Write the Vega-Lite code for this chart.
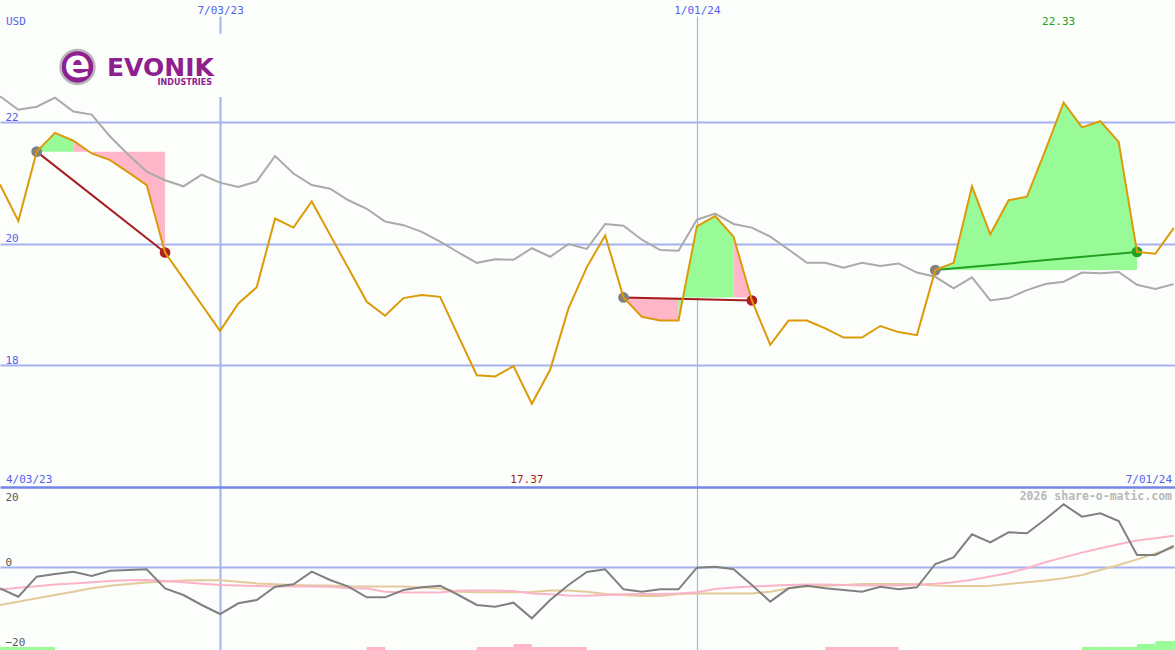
{
  "$schema": "https://vega.github.io/schema/vega-lite/v6.json",
  "autosize": {"type": "pad"},
  "padding": {"top": 4, "left": 0, "right": 0, "bottom": 0},
  "bounds": "flush",
  "spacing": 0,
  "background": "#fcfefc",
  "config": {"view": {"stroke": null}, "text": {"font": "DejaVu Sans Mono"}},
  "datasets": {
    "main": [
      {"date": "2023-04-10", "price": 20.98, "comp": 22.43, "mom": -5.33, "ma1": -5.6, "ma2": -9.5},
      {"date": "2023-04-17", "price": 20.38, "comp": 22.21, "mom": -7.42, "ma1": -5.2, "ma2": -8.67},
      {"date": "2023-04-24", "price": 21.52, "comp": 22.26, "mom": -2.42, "ma1": -4.8, "ma2": -7.8},
      {"date": "2023-05-01", "price": 21.83, "comp": 22.41, "mom": -1.75, "ma1": -4.4, "ma2": -7.0},
      {"date": "2023-05-08", "price": 21.7, "comp": 22.18, "mom": -1.17, "ma1": -4.1, "ma2": -6.2},
      {"date": "2023-05-15", "price": 21.49, "comp": 22.13, "mom": -2.25, "ma1": -3.8, "ma2": -5.3},
      {"date": "2023-05-22", "price": 21.38, "comp": 21.77, "mom": -0.92, "ma1": -3.5, "ma2": -4.7},
      {"date": "2023-05-29", "price": 21.18, "comp": 21.47, "mom": -0.75, "ma1": -3.3, "ma2": -4.25},
      {"date": "2023-06-05", "price": 20.97, "comp": 21.19, "mom": -0.58, "ma1": -3.25, "ma2": -3.9},
      {"date": "2023-06-12", "price": 19.86, "comp": 21.05, "mom": -5.33, "ma1": -3.5, "ma2": -3.6},
      {"date": "2023-06-19", "price": 19.43, "comp": 20.95, "mom": -7.0, "ma1": -3.8, "ma2": -3.4},
      {"date": "2023-06-26", "price": 19.0, "comp": 21.14, "mom": -9.5, "ma1": -4.2, "ma2": -3.3},
      {"date": "2023-07-03", "price": 18.57, "comp": 21.01, "mom": -11.75, "ma1": -4.5, "ma2": -3.3},
      {"date": "2023-07-10", "price": 19.02, "comp": 20.94, "mom": -9.08, "ma1": -4.6, "ma2": -3.7},
      {"date": "2023-07-17", "price": 19.29, "comp": 21.03, "mom": -8.25, "ma1": -4.75, "ma2": -4.1},
      {"date": "2023-07-24", "price": 20.42, "comp": 21.45, "mom": -4.92, "ma1": -4.85, "ma2": -4.3},
      {"date": "2023-07-31", "price": 20.27, "comp": 21.16, "mom": -4.33, "ma1": -4.9, "ma2": -4.5},
      {"date": "2023-08-07", "price": 20.7, "comp": 20.97, "mom": -1.17, "ma1": -4.9, "ma2": -4.6},
      {"date": "2023-08-14", "price": 20.15, "comp": 20.91, "mom": -3.25, "ma1": -4.95, "ma2": -4.6},
      {"date": "2023-08-21", "price": 19.6, "comp": 20.72, "mom": -4.92, "ma1": -5.3, "ma2": -4.9},
      {"date": "2023-08-28", "price": 19.05, "comp": 20.58, "mom": -7.58, "ma1": -5.4, "ma2": -4.9},
      {"date": "2023-09-04", "price": 18.82, "comp": 20.37, "mom": -7.58, "ma1": -6.2, "ma2": -4.9},
      {"date": "2023-09-11", "price": 19.11, "comp": 20.31, "mom": -5.75, "ma1": -6.4, "ma2": -4.9},
      {"date": "2023-09-18", "price": 19.16, "comp": 20.2, "mom": -5.08, "ma1": -6.4, "ma2": -5.1},
      {"date": "2023-09-25", "price": 19.13, "comp": 20.04, "mom": -4.67, "ma1": -6.4, "ma2": -5.4},
      {"date": "2023-10-02", "price": 18.48, "comp": 19.86, "mom": -7.0, "ma1": -5.9, "ma2": -6.2},
      {"date": "2023-10-09", "price": 17.84, "comp": 19.69, "mom": -9.5, "ma1": -5.9, "ma2": -6.3},
      {"date": "2023-10-16", "price": 17.82, "comp": 19.75, "mom": -9.92, "ma1": -5.9, "ma2": -6.3},
      {"date": "2023-10-23", "price": 17.99, "comp": 19.74, "mom": -8.92, "ma1": -6.0, "ma2": -6.3},
      {"date": "2023-10-30", "price": 17.37, "comp": 19.93, "mom": -12.83, "ma1": -6.6, "ma2": -6.25},
      {"date": "2023-11-06", "price": 17.93, "comp": 19.79, "mom": -8.25, "ma1": -6.8, "ma2": -5.9},
      {"date": "2023-11-13", "price": 18.94, "comp": 20.0, "mom": -4.5, "ma1": -7.1, "ma2": -5.9},
      {"date": "2023-11-20", "price": 19.62, "comp": 19.92, "mom": -1.25, "ma1": -7.2, "ma2": -6.2},
      {"date": "2023-11-27", "price": 20.14, "comp": 20.33, "mom": -0.58, "ma1": -7.0, "ma2": -6.75},
      {"date": "2023-12-04", "price": 19.12, "comp": 20.3, "mom": -5.58, "ma1": -6.8, "ma2": -7.0},
      {"date": "2023-12-11", "price": 18.8, "comp": 20.07, "mom": -6.17, "ma1": -6.75, "ma2": -7.25},
      {"date": "2023-12-18", "price": 18.74, "comp": 19.9, "mom": -5.58, "ma1": -6.75, "ma2": -7.25},
      {"date": "2023-12-25", "price": 18.74, "comp": 19.89, "mom": -5.58, "ma1": -6.6, "ma2": -6.75},
      {"date": "2024-01-01", "price": 20.29, "comp": 20.4, "mom": -0.17, "ma1": -6.3, "ma2": -6.6},
      {"date": "2024-01-08", "price": 20.46, "comp": 20.5, "mom": 0.08, "ma1": -5.5, "ma2": -6.6},
      {"date": "2024-01-15", "price": 20.12, "comp": 20.33, "mom": -0.58, "ma1": -5.1, "ma2": -6.6},
      {"date": "2024-01-22", "price": 19.07, "comp": 20.27, "mom": -4.5, "ma1": -4.9, "ma2": -6.6},
      {"date": "2024-01-29", "price": 18.34, "comp": 20.12, "mom": -8.67, "ma1": -4.7, "ma2": -6.2},
      {"date": "2024-02-05", "price": 18.74, "comp": 19.91, "mom": -5.33, "ma1": -4.5, "ma2": -5.3},
      {"date": "2024-02-12", "price": 18.74, "comp": 19.69, "mom": -4.67, "ma1": -4.4, "ma2": -4.9},
      {"date": "2024-02-19", "price": 18.61, "comp": 19.69, "mom": -5.33, "ma1": -4.4, "ma2": -4.7},
      {"date": "2024-02-26", "price": 18.46, "comp": 19.61, "mom": -5.75, "ma1": -4.5, "ma2": -4.5},
      {"date": "2024-03-04", "price": 18.46, "comp": 19.69, "mom": -6.17, "ma1": -4.6, "ma2": -4.25},
      {"date": "2024-03-11", "price": 18.65, "comp": 19.64, "mom": -4.92, "ma1": -4.6, "ma2": -4.25},
      {"date": "2024-03-18", "price": 18.55, "comp": 19.68, "mom": -5.58, "ma1": -4.6, "ma2": -4.25},
      {"date": "2024-03-25", "price": 18.5, "comp": 19.53, "mom": -5.08, "ma1": -4.4, "ma2": -4.3},
      {"date": "2024-04-01", "price": 19.57, "comp": 19.46, "mom": 0.75, "ma1": -4.2, "ma2": -4.6},
      {"date": "2024-04-08", "price": 19.69, "comp": 19.27, "mom": 2.42, "ma1": -3.8, "ma2": -4.75},
      {"date": "2024-04-15", "price": 20.95, "comp": 19.45, "mom": 8.17, "ma1": -3.2, "ma2": -4.75},
      {"date": "2024-04-22", "price": 20.16, "comp": 19.07, "mom": 6.17, "ma1": -2.4, "ma2": -4.7},
      {"date": "2024-04-29", "price": 20.72, "comp": 19.11, "mom": 8.67, "ma1": -1.5, "ma2": -4.25},
      {"date": "2024-05-06", "price": 20.78, "comp": 19.24, "mom": 8.42, "ma1": -0.3, "ma2": -3.8},
      {"date": "2024-05-13", "price": 21.54, "comp": 19.34, "mom": 11.92, "ma1": 1.2, "ma2": -3.4},
      {"date": "2024-05-20", "price": 22.33, "comp": 19.38, "mom": 15.67, "ma1": 2.4, "ma2": -2.8},
      {"date": "2024-05-27", "price": 21.92, "comp": 19.53, "mom": 12.58, "ma1": 3.6, "ma2": -2.0},
      {"date": "2024-06-03", "price": 22.02, "comp": 19.52, "mom": 13.42, "ma1": 4.7, "ma2": -0.75},
      {"date": "2024-06-10", "price": 21.68, "comp": 19.54, "mom": 11.5, "ma1": 5.7, "ma2": 0.5},
      {"date": "2024-06-17", "price": 19.87, "comp": 19.33, "mom": 3.0, "ma1": 6.6, "ma2": 1.9},
      {"date": "2024-06-24", "price": 19.84, "comp": 19.26, "mom": 3.0, "ma1": 7.2, "ma2": 3.4},
      {"date": "2024-07-01", "price": 20.26, "comp": 19.34, "mom": 5.25, "ma1": 7.8, "ma2": 4.8}
    ],
    "shade": [
      {"run": "a", "res": "gain", "date": "2023-04-24", "price": 21.52, "base": 21.52},
      {"run": "a", "res": "gain", "date": "2023-05-01", "price": 21.83, "base": 21.52},
      {"run": "a", "res": "gain", "date": "2023-05-08", "price": 21.7, "base": 21.52},
      {"run": "b", "res": "loss", "date": "2023-05-08", "price": 21.7, "base": 21.52},
      {"run": "b", "res": "loss", "date": "2023-05-15", "price": 21.49, "base": 21.52},
      {"run": "b", "res": "loss", "date": "2023-05-22", "price": 21.38, "base": 21.52},
      {"run": "b", "res": "loss", "date": "2023-05-29", "price": 21.18, "base": 21.52},
      {"run": "b", "res": "loss", "date": "2023-06-05", "price": 20.97, "base": 21.52},
      {"run": "b", "res": "loss", "date": "2023-06-12", "price": 19.86, "base": 21.52},
      {"run": "c", "res": "loss", "date": "2023-12-04", "price": 19.12, "base": 19.12},
      {"run": "c", "res": "loss", "date": "2023-12-11", "price": 18.8, "base": 19.12},
      {"run": "c", "res": "loss", "date": "2023-12-18", "price": 18.74, "base": 19.12},
      {"run": "c", "res": "loss", "date": "2023-12-25", "price": 18.74, "base": 19.12},
      {"run": "d", "res": "gain", "date": "2023-12-25", "price": 18.74, "base": 19.12},
      {"run": "d", "res": "gain", "date": "2024-01-01", "price": 20.29, "base": 19.12},
      {"run": "d", "res": "gain", "date": "2024-01-08", "price": 20.46, "base": 19.12},
      {"run": "d", "res": "gain", "date": "2024-01-15", "price": 20.12, "base": 19.12},
      {"run": "e", "res": "loss", "date": "2024-01-15", "price": 20.12, "base": 19.12},
      {"run": "e", "res": "loss", "date": "2024-01-22", "price": 19.07, "base": 19.12},
      {"run": "f", "res": "gain", "date": "2024-04-01", "price": 19.57, "base": 19.57},
      {"run": "f", "res": "gain", "date": "2024-04-08", "price": 19.69, "base": 19.57},
      {"run": "f", "res": "gain", "date": "2024-04-15", "price": 20.95, "base": 19.57},
      {"run": "f", "res": "gain", "date": "2024-04-22", "price": 20.16, "base": 19.57},
      {"run": "f", "res": "gain", "date": "2024-04-29", "price": 20.72, "base": 19.57},
      {"run": "f", "res": "gain", "date": "2024-05-06", "price": 20.78, "base": 19.57},
      {"run": "f", "res": "gain", "date": "2024-05-13", "price": 21.54, "base": 19.57},
      {"run": "f", "res": "gain", "date": "2024-05-20", "price": 22.33, "base": 19.57},
      {"run": "f", "res": "gain", "date": "2024-05-27", "price": 21.92, "base": 19.57},
      {"run": "f", "res": "gain", "date": "2024-06-03", "price": 22.02, "base": 19.57},
      {"run": "f", "res": "gain", "date": "2024-06-10", "price": 21.68, "base": 19.57},
      {"run": "f", "res": "gain", "date": "2024-06-17", "price": 19.87, "base": 19.57}
    ],
    "trades": [
      {"trade": 1, "side": "buy", "res": "loss", "date": "2023-04-24", "price": 21.52},
      {"trade": 1, "side": "sell", "res": "loss", "date": "2023-06-12", "price": 19.86},
      {"trade": 2, "side": "buy", "res": "loss", "date": "2023-12-04", "price": 19.12},
      {"trade": 2, "side": "sell", "res": "loss", "date": "2024-01-22", "price": 19.07},
      {"trade": 3, "side": "buy", "res": "gain", "date": "2024-04-01", "price": 19.57},
      {"trade": 3, "side": "sell", "res": "gain", "date": "2024-06-17", "price": 19.87}
    ],
    "bars": [
      {"date": "2023-04-10", "end": "2023-04-17", "top": -20.0, "dir": "up"},
      {"date": "2023-04-17", "end": "2023-04-24", "top": -20.0, "dir": "up"},
      {"date": "2023-04-24", "end": "2023-05-01", "top": -20.0, "dir": "up"},
      {"date": "2023-08-28", "end": "2023-09-04", "top": -20.0, "dir": "down"},
      {"date": "2023-10-09", "end": "2023-10-16", "top": -20.0, "dir": "down"},
      {"date": "2023-10-16", "end": "2023-10-23", "top": -20.0, "dir": "down"},
      {"date": "2023-10-23", "end": "2023-10-30", "top": -19.25, "dir": "down"},
      {"date": "2023-10-30", "end": "2023-11-06", "top": -20.0, "dir": "down"},
      {"date": "2023-11-06", "end": "2023-11-13", "top": -20.0, "dir": "down"},
      {"date": "2023-11-13", "end": "2023-11-20", "top": -20.0, "dir": "down"},
      {"date": "2024-02-19", "end": "2024-02-26", "top": -20.0, "dir": "down"},
      {"date": "2024-02-26", "end": "2024-03-04", "top": -20.0, "dir": "down"},
      {"date": "2024-03-04", "end": "2024-03-11", "top": -20.0, "dir": "down"},
      {"date": "2024-03-11", "end": "2024-03-18", "top": -20.0, "dir": "down"},
      {"date": "2024-05-27", "end": "2024-06-03", "top": -20.0, "dir": "up"},
      {"date": "2024-06-03", "end": "2024-06-10", "top": -20.0, "dir": "up"},
      {"date": "2024-06-10", "end": "2024-06-17", "top": -20.0, "dir": "up"},
      {"date": "2024-06-17", "end": "2024-06-24", "top": -19.25, "dir": "up"},
      {"date": "2024-06-24", "end": "2024-07-01", "top": -18.5, "dir": "up"},
      {"date": "2024-07-01", "end": "2024-07-08", "top": -18.5, "dir": "up"}
    ]
  },
  "vconcat": [
    {
      "width": 1175,
      "height": 471,
      "data": {"name": "main"},
      "encoding": {
        "x": {
          "field": "date", "type": "temporal",
          "scale": {"type": "utc", "domain": [{"year": 2023, "month": 4, "date": 10, "utc": true}, {"year": 2024, "month": 7, "date": 1, "hours": 12, "utc": true}]},
          "axis": {
            "orient": "top", "title": null,
            "values": [{"year": 2023, "month": 7, "date": 3, "utc": true}, {"year": 2024, "month": 1, "date": 1, "utc": true}],
            "labelExpr": "utcFormat(datum.value, '%-m/%d/%y')",
            "domain": false, "ticks": false, "labelPadding": 1, "labelFlush": false,
            "labelColor": "#5262ec", "labelFont": "DejaVu Sans Mono", "labelFontSize": 11,
            "grid": true, "gridColor": "#a6b2f0",
            "gridWidth": {"condition": {"test": "utcyear(datum.value) == 2023", "value": 2}, "value": 1.2}
          }
        },
        "y": {
          "field": "price", "type": "quantitative",
          "scale": {"domain": [16, 23.753], "zero": false, "nice": false},
          "axis": {
            "orient": "left", "title": null, "values": [18, 20, 22],
            "domain": false, "ticks": false, "grid": true, "gridColor": "#a6b2f0", "gridWidth": 2,
            "labelAlign": "left", "labelBaseline": "bottom", "labelPadding": -5,
            "labelColor": "#5262ec", "labelFont": "DejaVu Sans Mono", "labelFontSize": 11
          }
        }
      },
      "layer": [
        {
          "transform": [{"window": [{"op": "row_number", "as": "rn"}]}, {"filter": "datum.rn == 1"}],
          "mark": {"type": "rect", "fill": "#fcfefc"},
          "encoding": {
            "x": {"datum": 1682402400000, "type": "temporal"},
            "x2": {"datum": 1688734800000},
            "y": {"datum": 23.46, "type": "quantitative"},
            "y2": {"datum": 22.42}
          }
        },
        {
          "data": {"name": "shade"},
          "mark": {"type": "area", "opacity": 1},
          "encoding": {
            "y2": {"field": "base"},
            "color": {"field": "res", "type": "nominal", "scale": {"domain": ["gain", "loss"], "range": ["#98fb98", "#ffb6c8"]}, "legend": null},
            "detail": {"field": "run", "type": "nominal"}
          }
        },
        {
          "mark": {"type": "line", "color": "#aaaaaa", "strokeWidth": 2, "clip": true},
          "encoding": {"y": {"field": "comp", "type": "quantitative"}}
        },
        {
          "data": {"name": "trades"},
          "mark": {"type": "line", "strokeWidth": 2, "clip": true},
          "encoding": {
            "color": {"field": "res", "type": "nominal", "scale": {"domain": ["gain", "loss"], "range": ["#22a022", "#a51d1d"]}, "legend": null},
            "detail": {"field": "trade", "type": "nominal"}
          }
        },
        {
          "data": {"name": "trades"},
          "mark": {"type": "point", "filled": true, "opacity": 1, "size": 115},
          "encoding": {
            "color": {
              "condition": {"test": "datum.side == 'buy'", "value": "#808080"},
              "field": "res", "type": "nominal",
              "scale": {"domain": ["gain", "loss"], "range": ["#22a022", "#b02020"]}, "legend": null
            }
          }
        },
        {
          "mark": {"type": "line", "color": "#dc9a08", "strokeWidth": 2, "clip": true}
        },
        {
          "transform": [{"window": [{"op": "row_number", "as": "rn"}]}, {"filter": "datum.rn == 1"}],
          "mark": {"type": "text", "align": "left", "baseline": "alphabetic", "dx": 6, "fontSize": 11, "color": "#5262ec"},
          "encoding": {
            "x": {"datum": 1681084800000, "type": "temporal"},
            "y": {"datum": 23.605, "type": "quantitative"},
            "text": {"value": "USD"}
          }
        },
        {
          "transform": [{"window": [{"op": "row_number", "as": "rn"}]}, {"filter": "datum.rn == 1"}],
          "mark": {"type": "text", "align": "left", "baseline": "alphabetic", "dx": 6, "fontSize": 11, "color": "#5262ec"},
          "encoding": {
            "x": {"datum": 1681084800000, "type": "temporal"},
            "y": {"datum": 16.066, "type": "quantitative"},
            "text": {"value": "4/03/23"}
          }
        },
        {
          "transform": [{"window": [{"op": "row_number", "as": "rn"}]}, {"filter": "datum.rn == 1"}],
          "mark": {"type": "text", "align": "right", "baseline": "alphabetic", "dx": -3, "fontSize": 11, "color": "#5262ec"},
          "encoding": {
            "x": {"datum": 1719835200000, "type": "temporal"},
            "y": {"datum": 16.066, "type": "quantitative"},
            "text": {"value": "7/01/24"}
          }
        },
        {
          "transform": [
            {"joinaggregate": [{"op": "max", "field": "price", "as": "pmax"}]},
            {"filter": "datum.price == datum.pmax"}
          ],
          "mark": {"type": "text", "align": "center", "baseline": "alphabetic", "dx": -5, "fontSize": 11, "color": "#22a022"},
          "encoding": {
            "y": {"datum": 23.605, "type": "quantitative"},
            "text": {"field": "price", "type": "quantitative", "format": ".2f"}
          }
        },
        {
          "transform": [
            {"joinaggregate": [{"op": "min", "field": "price", "as": "pmin"}]},
            {"filter": "datum.price == datum.pmin"}
          ],
          "mark": {"type": "text", "align": "center", "baseline": "alphabetic", "dx": -5, "fontSize": 11, "color": "#a51d1d"},
          "encoding": {
            "y": {"datum": 16.066, "type": "quantitative"},
            "text": {"field": "price", "type": "quantitative", "format": ".2f"}
          }
        },
        {
          "transform": [{"window": [{"op": "row_number", "as": "rn"}]}, {"filter": "datum.rn == 1"}],
          "mark": {"type": "point", "shape": "circle", "filled": true, "fill": "#8e1f8e", "stroke": "#b8b8b8", "strokeWidth": 2.5, "opacity": 1, "size": 1150},
          "encoding": {
            "x": {"datum": 1683640800000, "type": "temporal"},
            "y": {"datum": 22.914, "type": "quantitative"}
          }
        },
        {
          "transform": [{"window": [{"op": "row_number", "as": "rn"}]}, {"filter": "datum.rn == 1"}],
          "mark": {"type": "text", "align": "center", "baseline": "middle", "font": "DejaVu Sans", "fontWeight": "bold", "fontSize": 38, "color": "#ffffff", "dy": -1},
          "encoding": {
            "x": {"datum": 1683640800000, "type": "temporal"},
            "y": {"datum": 22.914, "type": "quantitative"},
            "text": {"value": "e"}
          }
        },
        {
          "transform": [{"window": [{"op": "row_number", "as": "rn"}]}, {"filter": "datum.rn == 1"}],
          "mark": {"type": "text", "align": "left", "baseline": "alphabetic", "font": "DejaVu Sans", "fontWeight": "bold", "fontSize": 25, "color": "#8e1f8e"},
          "encoding": {
            "x": {"datum": 1684612800000, "type": "temporal"},
            "y": {"datum": 22.765, "type": "quantitative"},
            "text": {"value": "EVONIK"}
          }
        },
        {
          "transform": [{"window": [{"op": "row_number", "as": "rn"}]}, {"filter": "datum.rn == 1"}],
          "mark": {"type": "text", "align": "right", "baseline": "alphabetic", "font": "DejaVu Sans", "fontWeight": "bold", "fontSize": 8, "color": "#8e1f8e", "dy": 1},
          "encoding": {
            "x": {"datum": 1688076000000, "type": "temporal"},
            "y": {"datum": 22.634, "type": "quantitative"},
            "text": {"value": "INDUSTRIES"}
          }
        }
      ],
      "resolve": {"scale": {"color": "independent"}}
    },
    {
      "width": 1175,
      "height": 163,
      "data": {"name": "main"},
      "encoding": {
        "x": {
          "field": "date", "type": "temporal",
          "scale": {"type": "utc", "domain": [{"year": 2023, "month": 4, "date": 10, "utc": true}, {"year": 2024, "month": 7, "date": 1, "hours": 12, "utc": true}]},
          "axis": {
            "orient": "bottom", "title": null,
            "values": [{"year": 2023, "month": 7, "date": 3, "utc": true}, {"year": 2024, "month": 1, "date": 1, "utc": true}],
            "labels": false, "domain": false, "ticks": false,
            "grid": true, "gridColor": "#a6b2f0",
            "gridWidth": {"condition": {"test": "utcyear(datum.value) == 2023", "value": 2}, "value": 1.2}
          }
        },
        "y": {
          "field": "mom", "type": "quantitative",
          "scale": {"domain": [-20.75, 20], "zero": false, "nice": false},
          "axis": {
            "orient": "left", "title": null, "values": [20, 0, -20],
            "domain": false, "ticks": false, "grid": true,
            "gridColor": {"condition": {"test": "datum.value == 20", "value": "#7585e8"}, "value": "#a6b2f0"},
            "gridOpacity": {"condition": {"test": "datum.value == -20", "value": 0}, "value": 1},
            "gridWidth": {"condition": {"test": "datum.value == 20", "value": 2.5}, "value": 2},
            "labelAlign": "left", "labelPadding": -5,
            "labelBaseline": {"condition": {"test": "datum.value == 20", "value": "top"}, "value": "bottom"},
            "labelOffset": {"condition": {"test": "datum.value == 20", "value": 4}, "value": 0},
            "labelColor": "#5a5a5a", "labelFont": "DejaVu Sans Mono", "labelFontSize": 11
          }
        }
      },
      "layer": [
        {
          "data": {"name": "bars", "format": {"parse": {"date": "date", "end": "date"}}},
          "mark": {"type": "rect", "clip": true},
          "encoding": {
            "x2": {"field": "end"},
            "y": {"field": "top", "type": "quantitative"},
            "y2": {"datum": -20.75},
            "color": {"field": "dir", "type": "nominal", "scale": {"domain": ["up", "down"], "range": ["#98fb98", "#ffb6c8"]}, "legend": null}
          }
        },
        {
          "mark": {"type": "line", "color": "#e2ca9a", "strokeWidth": 2, "clip": true},
          "encoding": {"y": {"field": "ma2", "type": "quantitative"}}
        },
        {
          "mark": {"type": "line", "color": "#fbb3c9", "strokeWidth": 2, "clip": true},
          "encoding": {"y": {"field": "ma1", "type": "quantitative"}}
        },
        {
          "mark": {"type": "line", "color": "#808080", "strokeWidth": 2, "clip": true}
        },
        {
          "transform": [{"window": [{"op": "row_number", "as": "rn"}]}, {"filter": "datum.rn == 1"}],
          "mark": {"type": "text", "align": "right", "baseline": "top", "dx": -3, "dy": 4, "fontSize": 11.5, "fontWeight": "bold", "color": "#b8b8b8"},
          "encoding": {
            "x": {"datum": 1719835200000, "type": "temporal"},
            "y": {"datum": 20, "type": "quantitative"},
            "text": {"value": "2026 share-o-matic.com"}
          }
        }
      ]
    }
  ]
}
